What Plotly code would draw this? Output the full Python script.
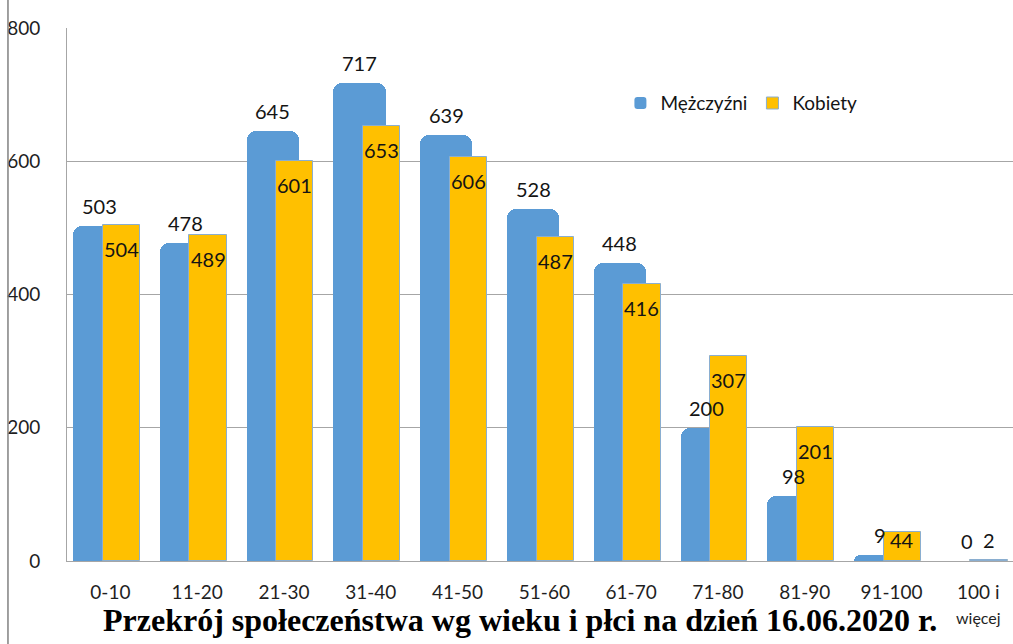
import plotly.graph_objects as go

# age groups and counts
age_groups = ["0-10", "11-20", "21-30", "31-40", "41-50", "51-60",
              "61-70", "71-80", "81-90", "91-100",
              "100 i<br><span style='font-size:16px'>więcej</span>"]
men = [503, 478, 645, 717, 639, 528, 448, 200, 98, 9, 0]
women = [504, 489, 601, 653, 606, 487, 416, 307, 201, 44, 2]

BLUE = "#5B9BD5"
YELLOW = "#FFC000"
FONT = "Lato"

# bar geometry in category units
men_offset, men_width = -0.43, 0.60
women_offset, women_width = -0.09, 0.43

x = list(range(len(age_groups)))

fig = go.Figure()
fig.add_trace(go.Bar(
    x=x, y=men, name="Mężczyźni",
    offset=men_offset, width=men_width,
    marker=dict(color=BLUE, cornerradius=9, line=dict(width=0)),
    hoverinfo="y",
))
fig.add_trace(go.Bar(
    x=x, y=women, name="Kobiety",
    offset=women_offset, width=women_width,
    marker=dict(color=YELLOW, line=dict(color="#8aaed0", width=1)),
    hoverinfo="y",
))

# value labels
px_per_unit = 533 / 800
annotations = []
for i, v in enumerate(men):
    annotations.append(dict(
        x=i + men_offset + men_width / 2, y=v, text=str(v),
        showarrow=False, yshift=20, xref="x", yref="y",
        font=dict(family=FONT, size=20, color="#141414"),
    ))
for i, v in enumerate(women):
    bar_px = v * px_per_unit
    if bar_px > 48:
        shift = -24
    elif bar_px > 20:
        shift = -(bar_px - 21)
    else:
        shift = 20
    annotations.append(dict(
        x=i + women_offset + women_width / 2, y=v, text=str(v),
        showarrow=False, yshift=shift, xref="x", yref="y",
        font=dict(family=FONT, size=20, color="#141414"),
    ))

annotations.append(dict(
    x=0.479, y=-0.111, xref="paper", yref="paper",
    xanchor="center", yanchor="middle", showarrow=False,
    text="<b>Przekrój społeczeństwa wg wieku i płci na dzień 16.06.2020 r.</b>",
    font=dict(family="Liberation Serif", size=32, color="#000000"),
))

fig.update_layout(
    width=1013, height=644,
    margin=dict(l=67, r=0, t=28, b=83),
    paper_bgcolor="white", plot_bgcolor="white",
    barmode="overlay",
    bargap=0,
    annotations=annotations,
    showlegend=True,
    legend=dict(
        orientation="h", x=0.585, y=0.859, xanchor="left", yanchor="middle",
        font=dict(family=FONT, size=19, color="#141414"),
        bgcolor="rgba(0,0,0,0)", itemclick=False,
    ),
    shapes=[dict(
        type="line", xref="paper", yref="paper",
        x0=-0.0624, x1=-0.0624, y0=-0.2, y1=1.1,
        line=dict(color="#808080", width=1.5),
    )],
)

fig.update_xaxes(
    range=[-0.5, 10.4],
    tickvals=x, ticktext=age_groups,
    tickfont=dict(family=FONT, size=19, color="#1f1f1f"),
    showline=True, linecolor="#a6a6a6", linewidth=1,
    showgrid=False, ticks="", ticklabelstandoff=14,
    automargin=False, fixedrange=True,
)
fig.update_yaxes(
    range=[0, 800], tickvals=[0, 200, 400, 600, 800],
    tickfont=dict(family=FONT, size=19, color="#1f1f1f"),
    showline=True, linecolor="#a6a6a6", linewidth=1,
    showgrid=True, gridcolor="#a6a6a6", gridwidth=1,
    zeroline=False, ticks="", ticklabelstandoff=22,
    automargin=False, fixedrange=True,
)

# the page's default body margin would push the figure 8px off
fig.write_html("out.html", config={"displayModeBar": False},
               post_script="document.body.style.margin='0';")
